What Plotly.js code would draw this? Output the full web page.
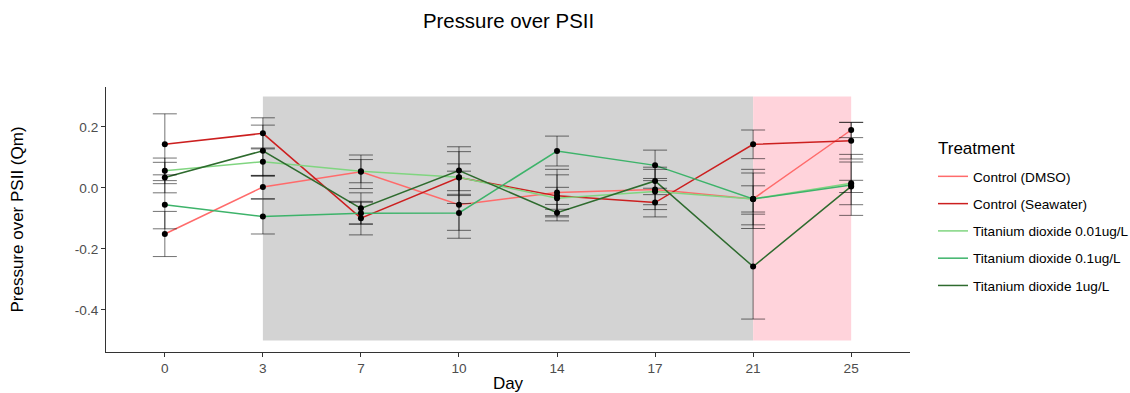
<!DOCTYPE html>
<html>
<head>
<meta charset="utf-8">
<script src="https://cdn.plot.ly/plotly-3.0.1.min.js"></script>
<style>html,body{margin:0;padding:0;background:#fff;}#chart{width:1130px;height:393px;}</style>
</head>
<body>
<div id="chart"></div>
<script>
const days = ["0", "3", "7", "10", "14", "17", "21", "25"];
const treatments = ["Control (DMSO)", "Control (Seawater)", "Titanium dioxide 0.01ug/L", "Titanium dioxide 0.1ug/L", "Titanium dioxide 1ug/L"];
const colors = ["#FF6B6B", "#CC1F1F", "#80D580", "#3DB36A", "#2E6B2E"];
const dmso      = [-0.151, 0.003, 0.053, -0.055, -0.015, -0.005, -0.036, 0.190];
const seawater  = [0.143, 0.179, -0.099, 0.034, -0.026, -0.048, 0.143, 0.155];
const tio001    = [0.056, 0.086, 0.055, 0.035, -0.034, -0.012, -0.036, 0.015];
const tio01     = [-0.055, -0.094, -0.083, -0.082, 0.121, 0.074, -0.036, 0.010];
const tio1      = [0.034, 0.122, -0.067, 0.057, -0.081, 0.023, -0.258, 0.005];
const dmsoErr     = [0.074, 0.038, 0.055, 0.110, 0.076, 0.066, 0.097, 0.025];
const seawaterErr = [0.100, 0.051, 0.055, 0.085, 0.069, 0.047, 0.047, 0.060];
const tio001Err   = [0.042, 0.045, 0.038, 0.044, 0.036, 0.043, 0.043, 0.070];
const tio01Err    = [0.079, 0.057, 0.036, 0.057, 0.049, 0.050, 0.085, 0.100];
const tio1Err     = [0.050, 0.084, 0.051, 0.078, 0.027, 0.045, 0.172, 0.020];
const yTicks = [-0.4, -0.2, 0.0, 0.2];
const yTickText = ["-0.4", "-0.2", "0.0", "0.2"];
const exposureStart = "3", exposureEnd = "21", recoveryEnd = "25";

const values = [dmso, seawater, tio001, tio01, tio1];
const errs = [dmsoErr, seawaterErr, tio001Err, tio01Err, tio1Err];

const traces = [];
values.forEach((v, i) => {
  traces.push({
    x: days, y: v, type: 'scatter', mode: 'lines', name: treatments[i], legendgroup: 'g' + i,
    line: {color: colors[i], width: 1.5}, hoverinfo: 'skip'
  });
});
values.forEach((v, i) => {
  traces.push({
    x: days, y: v, type: 'scatter', mode: 'markers', showlegend: false, legendgroup: 'g' + i,
    marker: {color: '#000', size: 6},
    error_y: {type: 'data', array: errs[i], visible: true, color: 'rgba(0,0,0,0.55)', thickness: 1, width: 12}
  });
});

const idx = d => days.indexOf(d);
const W = 1130, H = 393;

const layout = {
  width: W, height: H,
  margin: {l: 106, r: 220, t: 87, b: 41},
  paper_bgcolor: '#fff', plot_bgcolor: '#fff',
  font: {family: 'Liberation Sans, Arial, sans-serif', color: '#4D4D4D', size: 13.6},
  title: {text: 'Pressure over PSII', x: 0.45, xanchor: 'center', y: 0.948, yanchor: 'middle', font: {size: 20.4, color: '#000'}},
  xaxis: {
    type: 'category', categoryarray: days, range: [-0.6, 7.6],
    showgrid: false, zeroline: false, showline: true, linecolor: '#333', linewidth: 1,
    ticks: 'outside', ticklen: 4, tickcolor: '#333', tickfont: {size: 13.6, color: '#4D4D4D'},
    title: {text: 'Day', font: {size: 17, color: '#000'}, standoff: 2}
  },
  yaxis: {
    range: [-0.538, 0.331], tickvals: yTicks, ticktext: yTickText,
    showgrid: false, zeroline: false, showline: true, linecolor: '#333', linewidth: 1,
    ticks: 'outside', ticklen: 4, tickcolor: '#333', tickfont: {size: 13.6, color: '#4D4D4D'},
    title: {text: 'Pressure over PSII (Qm)', font: {size: 17, color: '#000'}, standoff: 46}
  },
  shapes: [
    {type: 'rect', xref: 'x', yref: 'y', x0: idx(exposureStart), x1: idx(exposureEnd), y0: -0.50, y1: 0.30, fillcolor: '#D3D3D3', line: {width: 0}, layer: 'below'},
    {type: 'rect', xref: 'x', yref: 'y', x0: idx(exposureEnd), x1: idx(recoveryEnd), y0: -0.50, y1: 0.30, fillcolor: '#FFD3DB', line: {width: 0}, layer: 'below'}
  ],
  annotations: [
    {text: 'Treatment', xref: 'paper', yref: 'paper', x: (936 - 106) / 804, y: (352 - 148) / 265, xanchor: 'left', yanchor: 'middle', showarrow: false, font: {size: 17, color: '#000'}}
  ],
  legend: {
    xref: 'container', yref: 'container',
    x: 933 / W, xanchor: 'left', y: 1 - 161 / H, yanchor: 'top',
    font: {size: 13.6, color: '#000'}, itemwidth: 30, tracegroupgap: 6.6,
    bgcolor: 'rgba(0,0,0,0)'
  },
  showlegend: true
};

Plotly.newPlot('chart', traces, layout, {displayModeBar: false, staticPlot: true});
</script>
</body>
</html>
